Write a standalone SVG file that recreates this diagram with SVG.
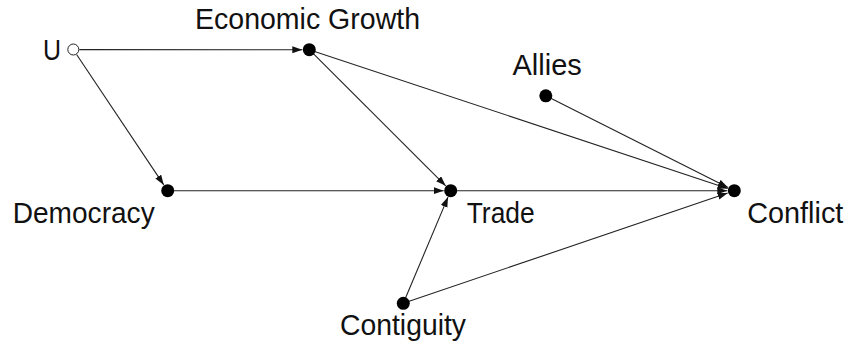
<svg xmlns="http://www.w3.org/2000/svg" width="849" height="347" viewBox="0 0 849 347">
<style>
.lbl{font-family:"Liberation Sans",Arial,sans-serif;font-size:29px;fill:#111}
.edge{stroke:#222;stroke-width:1.1;fill:none;marker-end:url(#arr)}
.dot{fill:#000}
.open{fill:#fff;stroke:#222;stroke-width:1}
</style>
<defs>
<marker id="arr" markerUnits="userSpaceOnUse" markerWidth="11" markerHeight="8" refX="10" refY="3.5" orient="auto">
<path d="M0,0 L10,3.5 L0,7 z" fill="#111"/>
</marker>
</defs>
<g id="connectors">
<line class="edge" x1="79.3" y1="49.6" x2="302.3" y2="49.7"/>
<line class="edge" x1="76.6" y1="54.5" x2="163.8" y2="184.9"/>
<line class="edge" x1="309.3" y1="49.7" x2="445.7" y2="185.8"/>
<line class="edge" x1="309.3" y1="49.7" x2="727.7" y2="188.5"/>
<line class="edge" x1="545.8" y1="95.8" x2="728.0" y2="187.5"/>
<line class="edge" x1="167.7" y1="190.7" x2="443.7" y2="190.7"/>
<line class="edge" x1="450.7" y1="190.7" x2="727.3" y2="190.7"/>
<line class="edge" x1="403.3" y1="303.3" x2="448.0" y2="197.1"/>
<line class="edge" x1="403.3" y1="303.3" x2="727.7" y2="193.0"/>
</g>
<g id="U"><circle class="open" cx="73.3" cy="49.5" r="5.5"/><text class="lbl" x="43" y="60" textLength="18" lengthAdjust="spacingAndGlyphs">U</text></g>
<g id="EconomicGrowth"><circle class="dot" cx="309.3" cy="49.7" r="6.5"/><text class="lbl" x="195" y="28.5" textLength="225" lengthAdjust="spacingAndGlyphs">Economic Growth</text></g>
<g id="Allies"><circle class="dot" cx="545.8" cy="95.8" r="6.5"/><text class="lbl" x="512.5" y="75">Allies</text></g>
<g id="Democracy"><circle class="dot" cx="167.7" cy="190.7" r="6.5"/><text class="lbl" x="12.7" y="223.3" textLength="142" lengthAdjust="spacingAndGlyphs">Democracy</text></g>
<g id="Trade"><circle class="dot" cx="450.7" cy="190.7" r="6.5"/><text class="lbl" x="466.7" y="223.3" textLength="68" lengthAdjust="spacingAndGlyphs">Trade</text></g>
<g id="Conflict"><circle class="dot" cx="734.3" cy="190.7" r="6.5"/><text class="lbl" x="747.3" y="223.3" textLength="96" lengthAdjust="spacingAndGlyphs">Conflict</text></g>
<g id="Contiguity"><circle class="dot" cx="403.3" cy="303.3" r="6.5"/><text class="lbl" x="340" y="335" textLength="126" lengthAdjust="spacingAndGlyphs">Contiguity</text></g>
</svg>
